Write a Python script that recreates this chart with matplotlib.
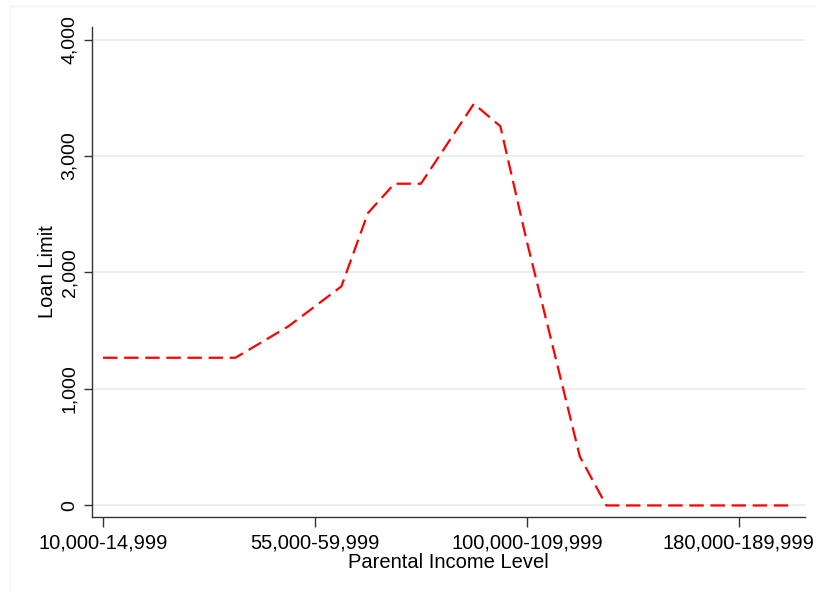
import matplotlib
matplotlib.use("Agg")
import matplotlib.pyplot as plt
from matplotlib.patches import Rectangle

plt.rcParams['font.family'] = ['Liberation Sans', 'DejaVu Sans']

income_bins = [
    "10,000-14,999", "15,000-19,999", "20,000-24,999", "25,000-29,999",
    "30,000-34,999", "35,000-39,999", "40,000-44,999", "45,000-54,999",
    "55,000-59,999", "60,000-64,999", "65,000-69,999", "70,000-74,999",
    "75,000-79,999", "80,000-84,999", "85,000-89,999", "90,000-99,999",
    "100,000-109,999", "110,000-119,999", "120,000-129,999", "130,000-139,999",
    "140,000-149,999", "150,000-159,999", "160,000-169,999", "170,000-179,999",
    "180,000-189,999", "190,000-199,999", "200,000+",
]
loan_limit = [
    1268, 1268, 1268, 1268, 1268, 1268, 1403, 1538,
    1709, 1881, 2510, 2762, 2762, 3105, 3448, 3255,
    2266, 1346, 420, 0, 0, 0, 0, 0,
    0, 0, 0,
]
tick_idx = [0, 8, 16, 24]
y_ticks = [0, 1000, 2000, 3000, 4000]
y_ticklabels = ["0", "1,000", "2,000", "3,000", "4,000"]

W, H = 817, 592
fig = plt.figure(figsize=(W / 100, H / 100), dpi=100)
fig.patches.append(Rectangle((10 / W, -0.1), 1.2, (H - 6) / H + 0.1, transform=fig.transFigure,
                             fill=False, edgecolor='#f2f2f2', linewidth=1))
ax = fig.add_axes([92 / W, (H - 517) / H, (805 - 92) / W, (517 - 26.7) / H])

x = list(range(len(income_bins)))
ax.plot(x, loan_limit, color='#ff0000', linewidth=1.6, linestyle=(0, (6.5, 3)))

ax.set_xlim(-0.415, 26.5)
ax.set_ylim(-99, 4110)

ax.set_yticks(y_ticks)
ax.set_yticklabels(y_ticklabels, fontsize=14, rotation=90, va='center')
ax.set_xticks(tick_idx)
ax.set_xticklabels([income_bins[i] for i in tick_idx], fontsize=14.5)

for yv in y_ticks:
    ax.axhline(yv, color='#e6eff1', linewidth=1.3, zorder=0)

for s in ['top', 'right']:
    ax.spines[s].set_visible(False)
for s in ['left', 'bottom']:
    ax.spines[s].set_color('#333333')
    ax.spines[s].set_linewidth(1.0)

ax.tick_params(axis='y', length=6, width=1.0, color='#333333', pad=4)
ax.tick_params(axis='x', length=7, width=1.0, color='#333333', pad=5)

ax.set_xlabel("Parental Income Level", fontsize=14.5, labelpad=0)
ax.set_ylabel("Loan Limit", fontsize=14.5, labelpad=3)

fig.savefig("out.png", dpi=100, facecolor='white')
